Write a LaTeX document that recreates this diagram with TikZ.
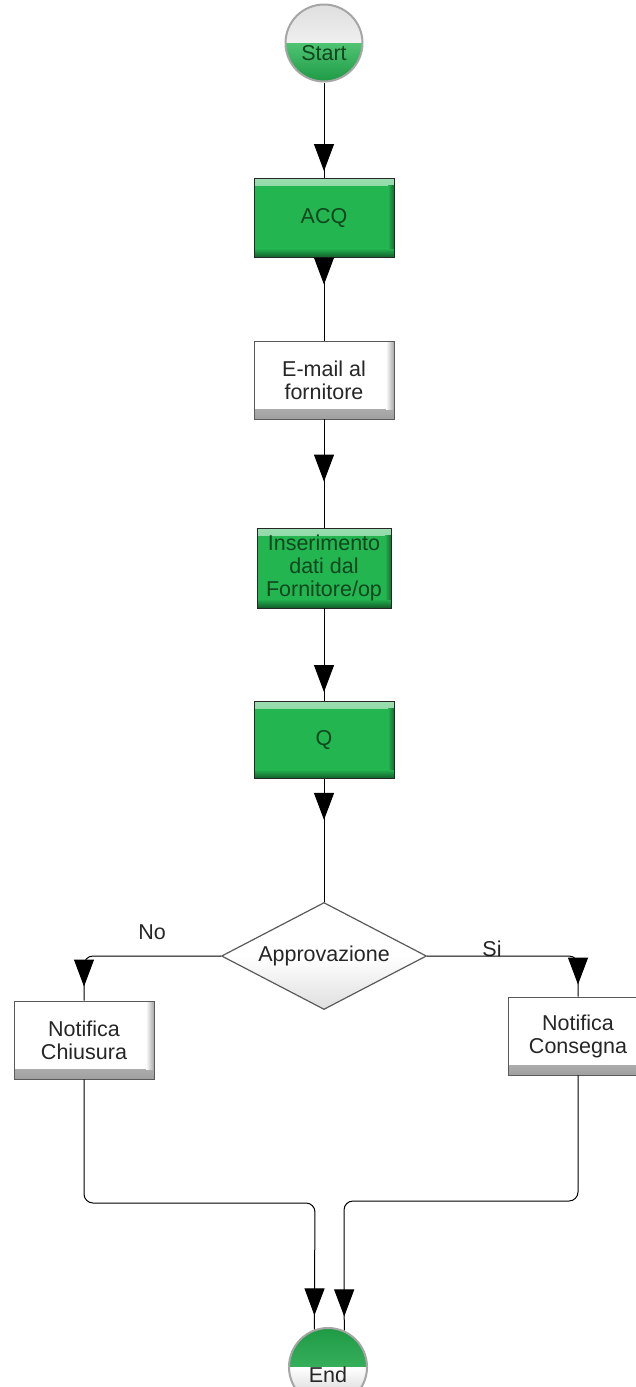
\documentclass[tikz,border=0pt]{standalone}
\usepackage{fontspec}
\setmainfont{Liberation Sans}
\usetikzlibrary{shapes.geometric,arrows.meta,decorations.markings}

\definecolor{boxgreen}{RGB}{35,181,80}
\definecolor{textgreen}{RGB}{15,70,30}
\definecolor{edgegray}{RGB}{90,90,90}

\tikzset{
  every node/.style={font=\fontsize{21.5}{23}\selectfont},
  greenbox/.style={draw=black!85, line width=0.9pt, fill=boxgreen,
    minimum width=140pt, minimum height=79pt, inner sep=2pt,
    align=center, text=textgreen,
    path picture={
      \shade[top color=boxgreen!45!white, bottom color=boxgreen]
        (path picture bounding box.north west) rectangle
        ([yshift=-7pt]path picture bounding box.north east);
      \shade[top color=boxgreen, bottom color=boxgreen!50!black]
        ([yshift=9pt]path picture bounding box.south west) rectangle
        (path picture bounding box.south east);
      \shade[left color=boxgreen, right color=boxgreen!60!black]
        ([xshift=-6pt,yshift=-7pt]path picture bounding box.north east) rectangle
        ([yshift=9pt]path picture bounding box.south east);
    }},
  whitebox/.style={draw=edgegray, line width=0.9pt, fill=white,
    minimum width=140pt, minimum height=78pt, inner sep=2pt,
    align=center, text=black!85,
    path picture={
      \shade[top color=white, bottom color=gray!75]
        ([yshift=10pt]path picture bounding box.south west) rectangle
        (path picture bounding box.south east);
      \shade[left color=white, right color=gray!70]
        ([xshift=-8pt]path picture bounding box.north east) rectangle
        ([yshift=10pt]path picture bounding box.south east);
    }},
  decision/.style={shape=diamond, aspect=1.9, draw=edgegray, line width=1.2pt,
    minimum width=205pt, minimum height=107pt, inner sep=0pt,
    top color=white, bottom color=gray!25, middle color=white, text=black!85},
  startcirc/.style={circle, draw=gray!70, line width=2pt, minimum size=77pt,
    inner sep=0pt, text=textgreen,
    path picture={
      \shade[top color=gray!25, bottom color=white]
        (path picture bounding box.north west) rectangle
        (path picture bounding box.east);
      \shade[top color=boxgreen!80!white, bottom color=boxgreen!85!black]
        (path picture bounding box.west) rectangle
        (path picture bounding box.south east);
    }},
  endcirc/.style={circle, draw=gray!70, line width=2pt, minimum size=78pt,
    inner sep=0pt, text=black!85,
    path picture={
      \shade[top color=boxgreen!85!black, bottom color=boxgreen!80!white]
        (path picture bounding box.north west) rectangle
        (path picture bounding box.east);
      \shade[top color=white, bottom color=gray!40]
        (path picture bounding box.west) rectangle
        (path picture bounding box.south east);
    }},
  link/.style={draw=black, line width=1pt, rounded corners=9pt},
  tipback/.style={postaction={decorate, decoration={markings,
    mark=at position -#1 with {\arrow{Triangle[width=20pt,length=27pt]}}}}},
  branchlabel/.style={text=black!85}
}

\begin{document}
\begin{tikzpicture}[x=1pt, y=-1pt]
  \useasboundingbox (0,0) rectangle (635,1387);
  \fill[white] (0,0) rectangle (635,1387);

  % process nodes, top to bottom
  \node[startcirc] (start) at (324,43) {\raisebox{-17pt}[0pt][0pt]{Start}};
  \node[greenbox] (acq) at (324,218) {ACQ};
  \node[whitebox] (mail) at (324,380) {E-mail al\\fornitore};
  \node[greenbox, minimum width=134pt, minimum height=80pt] (ins) at (324,568)
    {Inserimento\\dati dal\\Fornitore/op};
  \node[greenbox, minimum height=77pt] (q) at (324,740) {Q};
  \node[decision] (dec) at (324,956) {Approvazione};

  % outcome nodes
  \node[whitebox] (chi) at (84,1040) {Notifica\\Chiusura};
  \node[whitebox] (con) at (578,1036) {Notifica\\Consegna};
  \node[endcirc] (endc) at (328,1367) {\raisebox{-15pt}[0pt][0pt]{End}};

  \node[branchlabel] (lno) at (152,932) {No};
  \node[branchlabel] (lsi) at (492,949) {Si};

  % merge points above the end node
  \coordinate (jl) at (315,1203);
  \coordinate (jr) at (344,1201);

  % main flow
  \draw[link, tipback=7pt]  (start) -- (acq);
  \draw[link, tipback=56pt] (acq) -- (mail);
  \draw[link, tipback=46pt] (mail) -- (ins);
  \draw[link, tipback=9pt]  (ins) -- (q);
  \draw[link, tipback=82pt] (q) -- (dec);

  % decision branches
  \draw[link, tipback=14pt] (dec.west) -| (chi.north);
  \draw[link, tipback=12pt] (dec.east) -| (con.north);

  % both outcomes lead to the end
  \draw[link, tipback=14pt] (chi.south) |- (jl) -- (endc.110);
  \draw[link, tipback=14pt] (con.south) |- (jr) -- (endc.66);
\end{tikzpicture}
\end{document}
